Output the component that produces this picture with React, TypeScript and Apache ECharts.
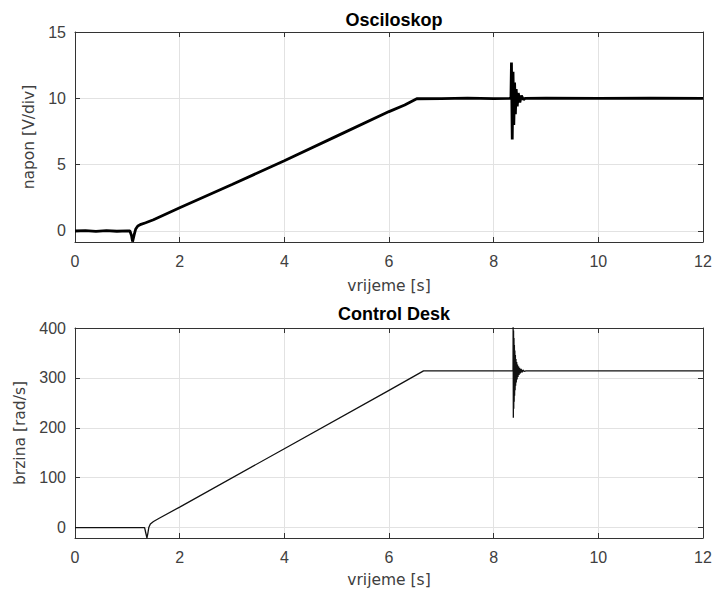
import React, { useEffect, useRef } from "react";
import * as echarts from "echarts";

// ---- data ----
const xTicks = [0, 2, 4, 6, 8, 10, 12];

// Osciloskop: napon [V/div] vs vrijeme [s]
const naponT = [
  0, 0.2, 0.4, 0.6, 0.8, 1.0, 1.05, 1.08, 1.1, 1.13, 1.16, 1.2, 1.26, 1.35, 1.5, 2, 3, 4, 5, 6, 6.3, 6.53,
  7, 7.5, 8, 8.33, 8.34, 8.355, 8.37, 8.385, 8.4, 8.415, 8.43, 8.45, 8.47, 8.5, 8.53, 8.57, 8.6, 9, 10, 11, 12,
];
const naponV = [
  0, 0.02, -0.03, 0.02, -0.02, 0.01, 0, -0.35, -0.8, -0.3, 0.15, 0.38, 0.5, 0.62, 0.85, 1.75, 3.5, 5.3, 7.15, 9.0, 9.5, 9.97,
  9.98, 10.02, 9.98, 10, 12.7, 6.9, 12.0, 8.0, 11.2, 8.8, 10.7, 9.4, 10.4, 9.7, 10.2, 9.9, 10, 10.01, 9.99, 10.02, 10,
];

// Control Desk: brzina [rad/s] vs vrijeme [s]
const brzinaT = [
  0, 1.33, 1.355, 1.375, 1.395, 1.41, 1.44, 1.5, 1.6, 2, 4, 6, 6.66,
  8.37, 8.372, 8.376, 8.38, 8.384, 8.388, 8.392, 8.396, 8.4, 8.405, 8.41, 8.415, 8.42, 8.426, 8.432, 8.44,
  8.448, 8.456, 8.465, 8.475, 8.485, 8.495, 8.51, 8.525, 8.54, 8.56, 8.58, 8.62, 12,
];
const brzinaV = [
  0, 0, -12, -21, -10, 0, 7, 12, 18, 41, 158, 275, 314,
  314, 410, 220, 395, 238, 380, 252, 366, 264, 355, 275, 346, 284, 338, 291, 332,
  297, 327, 302, 323, 306, 320, 309, 318, 311, 316, 313, 314, 314,
];

const topTitle = "Osciloskop";
const bottomTitle = "Control Desk";
const xName = "vrijeme [s]";
const topYName = "napon [V/div]";
const bottomYName = "brzina [rad/s]";
const topYRange = [-0.83, 15];
const bottomYRange = [-21, 400];

const AX = "#333333";
const TXT = "#404040";
const GRID = "#e2e2e2";
const FONT = "Liberation Sans, Arial, Helvetica, sans-serif";
const NAMEFONT = "DejaVu Sans, Liberation Sans, sans-serif";

export default function App() {
  const ref = useRef<HTMLDivElement>(null);
  useEffect(() => {
    if (!ref.current) return;
    const chart = echarts.init(ref.current, undefined, { renderer: "svg" });

    const xMain = (gridIndex: number, nameGap: number) => ({
      type: "value",
      gridIndex,
      min: xTicks[0],
      max: xTicks[xTicks.length - 1],
      interval: 2,
      position: "bottom",
      name: xName,
      nameLocation: "middle",
      nameGap,
      nameTextStyle: { color: TXT, fontSize: 15.5, fontFamily: NAMEFONT },
      axisLine: { show: true, onZero: false, lineStyle: { color: AX, width: 1 } },
      axisTick: { show: true, inside: true, length: 5, lineStyle: { color: AX } },
      axisLabel: { color: TXT, fontSize: 16, fontFamily: FONT, margin: 11 },
      splitLine: { show: true, lineStyle: { color: GRID, width: 1 } },
    });
    const xTop = (gridIndex: number) => ({
      type: "value",
      gridIndex,
      min: xTicks[0],
      max: xTicks[xTicks.length - 1],
      interval: 2,
      position: "top",
      axisLine: { show: true, onZero: false, lineStyle: { color: AX, width: 1 } },
      axisTick: { show: true, inside: true, length: 5, lineStyle: { color: AX } },
      axisLabel: { show: false },
      splitLine: { show: false },
    });
    const fmt = (step: number) => (v: number) =>
      Math.abs(v / step - Math.round(v / step)) < 1e-6 ? String(Math.round(v)) : "";
    const yMain = (gridIndex: number, range: number[], step: number, name: string, nameGap: number) => ({
      type: "value",
      gridIndex,
      min: range[0],
      max: range[1],
      minInterval: step,
      maxInterval: step,
      splitNumber: 3,
      position: "left",
      name,
      nameLocation: "middle",
      nameGap,
      nameTextStyle: { color: TXT, fontSize: 15.5, fontFamily: NAMEFONT },
      axisLine: { show: true, onZero: false, lineStyle: { color: AX, width: 1 } },
      axisTick: { show: true, inside: true, length: 5, lineStyle: { color: AX } },
      axisLabel: { color: TXT, fontSize: 16, fontFamily: FONT, margin: 9, formatter: fmt(step) },
      splitLine: { show: true, lineStyle: { color: GRID, width: 1 } },
    });
    const yRight = (gridIndex: number, range: number[], step: number) => ({
      type: "value",
      gridIndex,
      min: range[0],
      max: range[1],
      minInterval: step,
      maxInterval: step,
      splitNumber: 3,
      position: "right",
      axisLine: { show: true, onZero: false, lineStyle: { color: AX, width: 1 } },
      axisTick: { show: true, inside: true, length: 5, lineStyle: { color: AX } },
      axisLabel: { show: false },
      splitLine: { show: false },
    });

    chart.setOption({
      animation: false,
      backgroundColor: "#ffffff",
      title: [
        {
          text: topTitle,
          left: 389,
          top: 6,
          textAlign: "center",
          textStyle: { fontSize: 18, fontWeight: "bold", color: "#000", fontFamily: FONT },
        },
        {
          text: bottomTitle,
          left: 389,
          top: 300,
          textAlign: "center",
          textStyle: { fontSize: 18, fontWeight: "bold", color: "#000", fontFamily: FONT },
        },
      ],
      grid: [
        { left: 75, right: 12, top: 32, height: 210 },
        { left: 75, right: 12, top: 328, height: 210 },
      ],
      xAxis: [xMain(0, 36), xTop(0), xMain(1, 34), xTop(1)],
      yAxis: [
        yMain(0, topYRange, 5, topYName, 36),
        yRight(0, topYRange, 5),
        yMain(1, bottomYRange, 100, bottomYName, 45),
        yRight(1, bottomYRange, 100),
      ],
      series: [
        {
          type: "line",
          xAxisIndex: 0,
          yAxisIndex: 0,
          data: naponT.map((t, i) => [t, naponV[i]]),
          showSymbol: false,
          symbol: "none",
          lineStyle: { color: "#000", width: 2.8 },
          clip: true,
        },
        {
          type: "line",
          xAxisIndex: 2,
          yAxisIndex: 2,
          data: brzinaT.map((t, i) => [t, brzinaV[i]]),
          showSymbol: false,
          symbol: "none",
          lineStyle: { color: "#111", width: 1.3 },
          clip: true,
        },
      ],
    });
    return () => chart.dispose();
  }, []);
  return (
    <div
      ref={ref}
      style={{ position: "fixed", left: 0, top: 0, width: 715, height: 596, background: "#fff" }}
    />
  );
}
